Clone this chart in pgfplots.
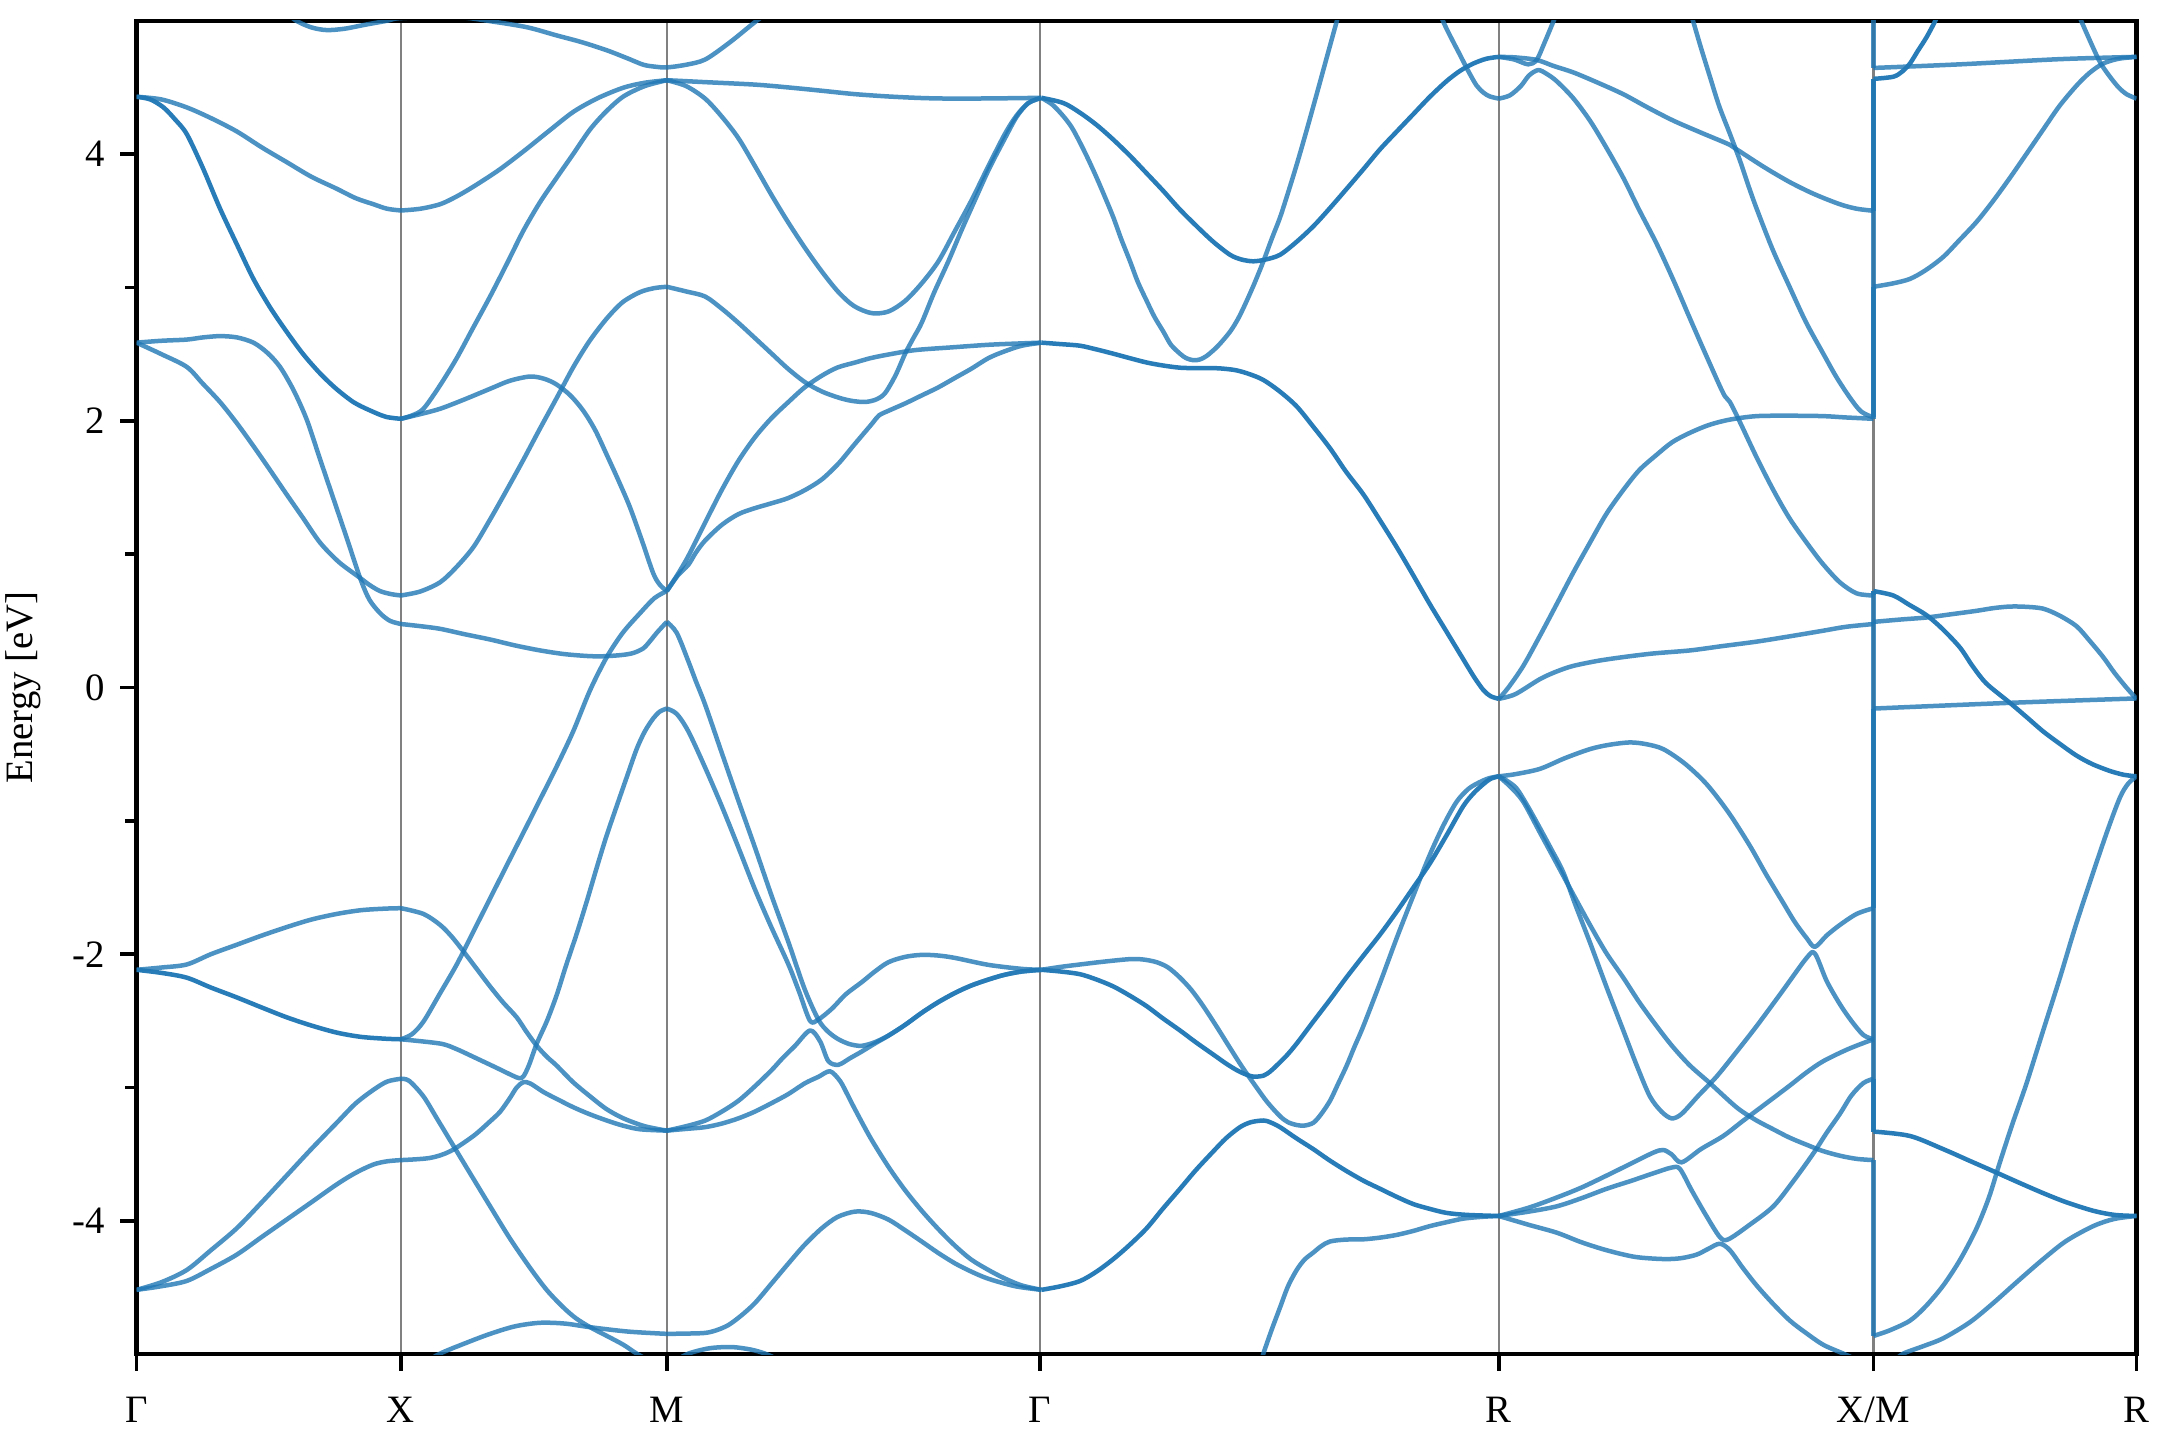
\documentclass[border=0pt]{standalone}
\usepackage{fontspec}
\setmainfont{Liberation Serif}
\usepackage{pgfplots}
\pgfplotsset{compat=1.18}
\definecolor{bandblue}{HTML}{1F77B4}
\pgfplotsset{
  band/.style={no markers, smooth, line width=1.8pt, color=bandblue, draw opacity=0.8, line join=round},
  dband/.style={band, draw opacity=0.96},
  vline/.style={no markers, line width=1.8pt, color=bandblue, draw opacity=0.8},
}
\begin{document}
\begin{tikzpicture}
\begin{axis}[
  scale only axis, width=800pt, height=533.4pt,
  xmin=99, xmax=1551, ymin=-5, ymax=5,
  xtick={99,291,484,755,1088,1360,1551},
  xticklabels={Γ,X,M,Γ,R,X/M,R},
  ytick={-4,-2,0,2,4}, yticklabels={-4,-2,0,2,4},
  minor ytick={-3,-1,1,3},
  xmajorgrids, major grid style={black!50, line width=0.9pt},
  tick align=outside, xtick pos=bottom, ytick pos=left,
  major tick length=6.5pt, minor tick length=4.5pt,
  every tick/.style={black, line width=1.4pt},
  axis line style={line width=1.7pt},
  tick label style={font=\fontsize{15.5}{17}\selectfont},
  xticklabel style={yshift=-7pt},
  yticklabel style={xshift=-2.6pt},
]
\coordinate (bl) at (rel axis cs:0,0);
\coordinate (tr) at (rel axis cs:1,1);
\coordinate (ml) at (rel axis cs:0,0.5);
% ---------- Gamma - X ----------
\addplot[band] coordinates {(205,5.08) (215,5.0) (226,4.95) (237,4.93) (250,4.94) (265,4.97) (281,5.0) (291,5.02) (330,5.03) (360,4.99) (383,4.95) (404,4.89) (422,4.84) (440,4.78) (455,4.72) (467,4.67) (476,4.655) (484,4.65) (498,4.67) (512,4.71) (530,4.84) (548,4.99) (560,5.08)};
\addplot[band] coordinates {(99,4.43) (117,4.41) (135.5,4.35) (153,4.27) (171.8,4.17) (190,4.05) (208,3.94) (226,3.83) (244.4,3.74) (258,3.67) (271,3.624) (281,3.59) (291,3.577)};
\addplot[dband] coordinates {(99,4.43) (109,4.41) (118.6,4.35) (127,4.26) (135.5,4.15) (147,3.9) (159.7,3.59) (172,3.32) (183.9,3.064) (196,2.85) (208,2.668) (220,2.5) (232.3,2.355) (244,2.24) (256.5,2.14) (268,2.08) (280,2.03) (291,2.015)};
\addplot[band] coordinates {(99,2.586) (117,2.6) (135.5,2.609) (147,2.625) (159.7,2.635) (172,2.625) (183.9,2.586) (194,2.51) (203.2,2.404) (213,2.23) (222.6,2.009) (232,1.72) (242,1.415) (252,1.11) (261.3,0.822) (268,0.66) (275.8,0.558) (283,0.5) (291,0.476)};
\addplot[band] coordinates {(99,2.586) (117,2.5) (135.5,2.404) (147,2.28) (159.7,2.14) (172,1.98) (183.9,1.81) (196,1.63) (208,1.448) (220,1.27) (232.3,1.086) (246,0.94) (261.3,0.822) (268,0.77) (275.8,0.723) (284,0.7) (291,0.69)};
\addplot[band] coordinates {(99,-2.117) (117,-2.1) (135.5,-2.077) (153,-2.0) (171.8,-1.929) (190,-1.86) (208,-1.797) (226,-1.74) (244.4,-1.698) (262,-1.67) (280,-1.658) (291,-1.655)};
\addplot[dband] coordinates {(99,-2.117) (117,-2.14) (135.5,-2.176) (153,-2.25) (171.8,-2.324) (190,-2.4) (208,-2.473) (226,-2.535) (244.4,-2.588) (262,-2.62) (280,-2.634) (291,-2.638)};
\addplot[band] coordinates {(99,-4.517) (117,-4.46) (135.5,-4.368) (153,-4.22) (171.8,-4.055) (190,-3.86) (208,-3.66) (226,-3.46) (244.4,-3.264) (258,-3.12) (271,-3.017) (281,-2.955) (291,-2.934)};
\addplot[band] coordinates {(99,-4.517) (117,-4.49) (135.5,-4.45) (153,-4.36) (171.8,-4.253) (190,-4.12) (208,-3.99) (226,-3.86) (244.4,-3.726) (258,-3.64) (271,-3.577) (281,-3.553) (291,-3.544)};
% ---------- X - M ----------
\addplot[band] coordinates {(291,3.577) (305,3.59) (319.4,3.624) (331,3.68) (343.6,3.756) (362,3.88) (379.9,4.02) (398,4.17) (416.2,4.317) (434,4.42) (452.5,4.498) (468,4.535) (484,4.554)};
\addplot[band] coordinates {(291,2.015) (299,2.04) (307.3,2.09) (319,2.26) (331.5,2.47) (343,2.69) (355.7,2.932) (368,3.18) (379.9,3.426) (392,3.64) (404,3.822) (416,4.0) (428.3,4.185) (440,4.32) (452.5,4.432) (468,4.51) (484,4.554)};
\addplot[band] coordinates {(291,2.015) (305,2.05) (319.4,2.09) (337,2.16) (355.7,2.24) (370,2.3) (384.7,2.332) (395,2.315) (404,2.272) (414,2.19) (423.4,2.075) (432,1.93) (440.4,1.745) (449,1.55) (457.3,1.35) (466,1.1) (474.2,0.855) (479,0.77) (484,0.723)};
\addplot[band] coordinates {(291,0.69) (305,0.72) (319.4,0.789) (331,0.9) (343.6,1.053) (355.7,1.26) (367.8,1.481) (380,1.71) (392,1.943) (404,2.17) (416.2,2.404) (428,2.6) (440.4,2.767) (452,2.89) (464.6,2.965) (475,2.995) (484,3.005)};
\addplot[band] coordinates {(291,0.476) (305,0.46) (319.4,0.44) (337,0.4) (355.7,0.36) (374,0.315) (392,0.278) (410,0.25) (428.3,0.235) (440,0.235) (452.5,0.245) (460,0.26) (467,0.294) (472,0.35) (476.7,0.41) (484,0.492)};
\addplot[band] coordinates {(291,-2.638) (299,-2.6) (307.3,-2.506) (319,-2.3) (331.5,-2.077) (343.6,-1.83) (355.7,-1.582) (368,-1.33) (379.9,-1.088) (392,-0.84) (404,-0.593) (416,-0.33) (428.3,-0.02) (440.4,0.228) (452,0.41) (464.6,0.558) (475,0.67) (484,0.723)};
\addplot[band] coordinates {(291,-1.655) (307.3,-1.698) (319.4,-1.78) (328,-1.87) (336.3,-1.978) (346,-2.11) (355.7,-2.242) (365,-2.36) (375,-2.473) (382,-2.58) (389.6,-2.687) (397,-2.77) (404,-2.835) (416,-2.96) (428.3,-3.066) (440,-3.16) (452.5,-3.231) (468,-3.29) (484,-3.323)};
\addplot[band] coordinates {(291,-2.638) (319.4,-2.67) (331,-2.71) (343.6,-2.77) (360,-2.85) (372,-2.91) (377,-2.93) (380,-2.915) (384,-2.83) (389.6,-2.67) (397,-2.5) (404,-2.308) (411,-2.08) (418.6,-1.846) (426,-1.6) (433.1,-1.352) (440,-1.12) (447.6,-0.89) (455,-0.67) (462.1,-0.462) (468,-0.33) (474.2,-0.231) (479,-0.18) (484,-0.158)};
\addplot[band] coordinates {(291,-2.934) (297,-2.95) (307.3,-3.066) (317,-3.23) (326.7,-3.396) (341,-3.64) (355.7,-3.89) (370,-4.13) (384.7,-4.352) (397,-4.52) (408.9,-4.649) (418,-4.73) (428.3,-4.797) (440,-4.86) (452.5,-4.929) (462.1,-4.995) (475,-5.07)};
\addplot[band] coordinates {(291,-3.544) (312,-3.528) (326.7,-3.478) (343.6,-3.363) (355,-3.26) (363,-3.181) (370,-3.08) (375,-3.0) (379.9,-2.96) (385,-2.97) (394.4,-3.033) (405,-3.09) (416.2,-3.148) (428,-3.2) (440.4,-3.247) (452,-3.285) (464.6,-3.313) (484,-3.323)};
\addplot[band] coordinates {(305,-5.08) (319.4,-4.995) (337,-4.92) (355.7,-4.847) (374,-4.79) (392,-4.764) (410,-4.77) (428.3,-4.797) (456,-4.83) (484,-4.847)};
% ---------- M - Gamma ----------
\addplot[band] coordinates {(484,4.554) (511,4.54) (548,4.521) (572,4.5) (596.5,4.475) (620,4.45) (644.9,4.432) (670,4.42) (693.3,4.416) (725,4.418) (756,4.422)};
\addplot[band] coordinates {(484,4.554) (498,4.51) (511.8,4.416) (524,4.28) (536,4.119) (548,3.91) (560.2,3.69) (572,3.49) (584.4,3.295) (596.5,3.12) (608.6,2.965) (620,2.86) (632.8,2.807) (645,2.82) (657,2.899) (669,3.03) (681.2,3.196) (693,3.42) (705.4,3.657) (717,3.9) (729.5,4.152) (738,4.29) (746.5,4.383) (756,4.422)};
\addplot[band] coordinates {(484,3.005) (498,2.97) (511.8,2.932) (524,2.84) (536,2.734) (548,2.62) (560.2,2.503) (572,2.39) (584.4,2.289) (596.5,2.22) (608.6,2.174) (618,2.15) (627.9,2.141) (636,2.16) (642.4,2.207) (650,2.34) (657,2.503) (663,2.62) (669,2.734) (678,2.96) (688.4,3.196) (698,3.43) (707.8,3.657) (718,3.89) (729.5,4.119) (738,4.28) (746.5,4.383) (756,4.422)};
\addplot[band] coordinates {(484,0.723) (492,0.85) (499.7,0.987) (512,1.24) (523.9,1.481) (536,1.7) (548,1.877) (560,2.02) (572.3,2.141) (584,2.25) (596.5,2.338) (608,2.4) (620.7,2.437) (632,2.47) (644.9,2.497) (664.2,2.53) (690,2.55) (717.5,2.57) (740,2.58) (756,2.586)};
\addplot[band] coordinates {(484,0.723) (492,0.84) (499.7,0.921) (505,1.01) (511.8,1.102) (524,1.22) (536,1.3) (548,1.345) (560.2,1.382) (572,1.42) (584.4,1.481) (596.5,1.56) (608.6,1.679) (620,1.82) (632.8,1.976) (638,2.04) (644.9,2.075) (657,2.13) (669,2.19) (681,2.25) (693.3,2.322) (705,2.39) (717.5,2.47) (729,2.52) (741.7,2.563) (756,2.586)};
\addplot[band] coordinates {(484,0.492) (491.2,0.41) (499.7,0.195) (505,0.05) (511.8,-0.128) (523.9,-0.49) (536,-0.85) (548,-1.2) (560,-1.56) (572.3,-1.91) (584,-2.26) (594,-2.49) (601,-2.58) (608.6,-2.638) (617,-2.675) (625.5,-2.687) (635,-2.66) (644.9,-2.61) (657,-2.53) (669,-2.44) (681,-2.36) (693.3,-2.29) (705,-2.235) (717.5,-2.19) (729,-2.155) (741.7,-2.13) (756,-2.117)};
\addplot[band] coordinates {(484,-0.158) (491.2,-0.198) (499.7,-0.33) (511.8,-0.6) (523.9,-0.89) (536,-1.2) (548.1,-1.517) (560,-1.8) (572.3,-2.077) (580,-2.28) (588,-2.5) (594,-2.49) (603.7,-2.41) (614,-2.3) (625.5,-2.21) (635,-2.13) (644.9,-2.06) (657,-2.02) (669.1,-2.005) (681,-2.01) (693.3,-2.028) (717.5,-2.08) (741.7,-2.11) (756,-2.117)};
\addplot[band] coordinates {(484,-3.323) (498,-3.29) (511.8,-3.248) (524,-3.18) (536,-3.099) (548,-2.99) (560.2,-2.868) (568,-2.78) (577.1,-2.687) (588,-2.572) (595.3,-2.654) (601.3,-2.802) (608.6,-2.829) (617,-2.78) (625.5,-2.73) (635,-2.67) (644.9,-2.611) (657,-2.53) (669,-2.44) (681,-2.36) (693.3,-2.29) (705,-2.235) (717.5,-2.19) (729,-2.155) (741.7,-2.13) (756,-2.117)};
\addplot[band] coordinates {(484,-3.323) (498,-3.31) (511.8,-3.297) (524,-3.27) (536,-3.231) (548,-3.18) (560.2,-3.116) (572,-3.05) (584.4,-2.967) (594,-2.92) (602.5,-2.878) (609.8,-2.951) (615,-3.05) (620.7,-3.165) (632,-3.38) (644.9,-3.594) (657,-3.77) (669,-3.923) (681,-4.06) (693.3,-4.187) (705,-4.29) (717.5,-4.368) (729,-4.43) (741.7,-4.484) (756,-4.517)};
\addplot[band] coordinates {(484,-4.847) (498,-4.845) (511.8,-4.84) (520,-4.82) (528.7,-4.781) (538,-4.71) (548,-4.616) (560,-4.47) (572.3,-4.319) (584,-4.18) (596.5,-4.055) (608,-3.97) (620.7,-3.93) (632,-3.94) (644.9,-3.99) (657,-4.07) (669,-4.154) (681,-4.24) (693.3,-4.319) (705,-4.38) (717.5,-4.434) (737,-4.49) (756,-4.517)};
\addplot[band] coordinates {(490,-5.05) (499.7,-4.995) (515,-4.955) (531.2,-4.946) (545,-4.965) (555.3,-4.995) (565,-5.04)};
% ---------- Gamma - R ----------
\addplot[dband] coordinates {(756,4.422) (771.9,4.383) (784,4.31) (796.1,4.218) (808,4.11) (820.3,3.987) (832,3.86) (844.5,3.723) (856,3.59) (868.7,3.459) (881,3.34) (892.9,3.245) (901,3.21) (909.8,3.196) (919,3.21) (929.2,3.245) (941,3.34) (953.4,3.459) (965,3.59) (977.6,3.74) (990,3.89) (1001.8,4.036) (1014,4.17) (1026,4.3) (1038,4.43) (1050.1,4.547) (1060,4.625) (1069.5,4.679) (1079,4.715) (1088,4.729)};
\addplot[band] coordinates {(756,4.422) (764,4.37) (771.9,4.284) (778,4.2) (784,4.086) (790,3.96) (796.1,3.822) (802,3.68) (808.2,3.525) (814,3.36) (820.3,3.196) (826,3.04) (832.4,2.899) (838,2.78) (844.5,2.668) (850,2.57) (856.6,2.503) (861,2.47) (866.3,2.454) (871,2.46) (876,2.487) (884,2.56) (892.9,2.668) (899,2.77) (905,2.899) (911,3.04) (917.1,3.196) (923,3.36) (929.2,3.525) (935,3.71) (941.3,3.921) (948,4.16) (955.8,4.449) (963,4.72) (970.3,4.993) (976,5.2)};
\addplot[dband] coordinates {(756,2.586) (770,2.575) (784,2.563) (796,2.535) (808.2,2.503) (820,2.47) (832.4,2.437) (844,2.415) (856.6,2.398) (868,2.395) (880.8,2.395) (889,2.39) (897.7,2.378) (907,2.35) (917.1,2.306) (929,2.22) (941.3,2.108) (953,1.96) (965.5,1.794) (977,1.62) (989.7,1.448) (1002,1.25) (1013.9,1.053) (1026,0.84) (1038,0.624) (1050,0.42) (1062.2,0.212) (1070,0.08) (1076.8,-0.019) (1082,-0.065) (1088,-0.085)};
\addplot[band] coordinates {(1044,5.1) (1047.7,4.993) (1054,4.86) (1059.8,4.745) (1066,4.62) (1071.9,4.514) (1077,4.46) (1081.6,4.432) (1088,4.416)};
\addplot[dband] coordinates {(756,-2.117) (770,-2.13) (784,-2.15) (796,-2.19) (808.2,-2.242) (820,-2.31) (832.4,-2.39) (844,-2.48) (856.6,-2.572) (868,-2.66) (880.8,-2.753) (890,-2.82) (897.7,-2.869) (904,-2.9) (909.8,-2.918) (917.1,-2.911) (922,-2.88) (926.7,-2.835) (934,-2.76) (941.3,-2.67) (953,-2.51) (965.5,-2.341) (977,-2.18) (989.7,-2.011) (1002,-1.85) (1013.9,-1.681) (1026,-1.5) (1038,-1.319) (1050,-1.11) (1062.2,-0.89) (1070,-0.79) (1076.8,-0.725) (1082,-0.685) (1088,-0.666)};
\addplot[band] coordinates {(756,-2.117) (770,-2.095) (784,-2.077) (802,-2.055) (820.3,-2.037) (830,-2.04) (839.6,-2.06) (848,-2.1) (856.6,-2.176) (865,-2.27) (873.5,-2.39) (883,-2.54) (892.9,-2.703) (902,-2.85) (912.2,-3.0) (920,-3.11) (929.2,-3.215) (935,-3.26) (941.3,-3.281) (947,-3.285) (953.4,-3.264) (959,-3.2) (965.5,-3.099) (971,-2.98) (977.6,-2.835) (983,-2.7) (989.7,-2.539) (1002,-2.21) (1013.9,-1.879) (1026,-1.56) (1038,-1.253) (1048,-1.03) (1057.4,-0.857) (1066,-0.76) (1074.3,-0.709) (1081,-0.68) (1088,-0.666)};
\addplot[dband] coordinates {(756,-4.517) (770,-4.49) (784,-4.451) (796,-4.38) (808.2,-4.286) (820,-4.18) (832.4,-4.055) (844,-3.91) (856.6,-3.759) (868,-3.62) (880.8,-3.478) (890,-3.38) (900.1,-3.297) (908,-3.26) (917.1,-3.247) (922,-3.26) (929.2,-3.297) (941,-3.38) (953.4,-3.462) (965,-3.545) (977.6,-3.627) (990,-3.7) (1001.8,-3.759) (1014,-3.82) (1026,-3.874) (1038,-3.91) (1050.1,-3.94) (1065,-3.955) (1088,-3.963)};
\addplot[band] coordinates {(914,-5.1) (917.1,-4.995) (923,-4.82) (929.2,-4.649) (935,-4.49) (941.3,-4.368) (947,-4.29) (953.4,-4.237) (959,-4.19) (965.5,-4.154) (977,-4.14) (989.7,-4.138) (1002,-4.125) (1013.9,-4.105) (1026,-4.075) (1038,-4.039) (1050,-4.01) (1062.2,-3.983) (1075,-3.97) (1088,-3.963)};
% ---------- R - X ----------
\addplot[band] coordinates {(1088,4.729) (1099,4.71) (1109.4,4.673) (1115.5,4.706) (1121,4.83) (1127.6,4.993) (1132,5.1)};
\addplot[band] coordinates {(1088,4.729) (1100,4.725) (1115.5,4.706) (1128,4.66) (1142,4.613) (1160,4.535) (1178.4,4.449) (1196,4.35) (1214.7,4.251) (1235,4.16) (1255.8,4.069) (1263,4.02) (1281,3.9) (1299.4,3.789) (1317,3.7) (1335.6,3.624) (1348,3.59) (1360,3.575)};
\addplot[band] coordinates {(1088,4.416) (1096,4.44) (1104,4.51) (1110,4.59) (1116.7,4.63) (1123,4.6) (1130,4.547) (1142,4.42) (1154.2,4.251) (1166,4.05) (1178.4,3.822) (1190,3.58) (1202.6,3.328) (1215,3.05) (1226.8,2.767) (1239,2.48) (1251,2.206) (1255.8,2.141) (1263,1.992) (1275,1.73) (1287.3,1.481) (1299,1.27) (1311.5,1.086) (1323,0.93) (1335.6,0.789) (1347.8,0.706) (1360,0.69)};
\addplot[band] coordinates {(1226,5.1) (1229.2,4.993) (1235,4.79) (1241.3,4.58) (1248,4.36) (1255.8,4.152) (1263,3.954) (1269,3.77) (1275.2,3.591) (1287,3.28) (1299.4,2.998) (1311,2.74) (1323.6,2.503) (1333,2.33) (1342.9,2.174) (1351,2.07) (1360,2.025)};
\addplot[band] coordinates {(1088,-0.085) (1095,0.0) (1105.8,0.162) (1118,0.39) (1130,0.624) (1142,0.86) (1154.2,1.086) (1166,1.3) (1178.4,1.481) (1190,1.63) (1202.6,1.745) (1214,1.84) (1226.8,1.91) (1241,1.97) (1255.8,2.009) (1275.2,2.035) (1300,2.038) (1323.6,2.035) (1340,2.025) (1360,2.015)};
\addplot[band] coordinates {(1088,-0.085) (1100,-0.05) (1117.9,0.063) (1130,0.12) (1142.1,0.162) (1160,0.2) (1178.4,0.228) (1200,0.255) (1226.8,0.278) (1250,0.31) (1275.2,0.344) (1300,0.385) (1323.6,0.426) (1340,0.455) (1360,0.476)};
\addplot[band] coordinates {(1088,-0.666) (1100,-0.65) (1117.9,-0.61) (1136,-0.53) (1154.2,-0.462) (1168,-0.43) (1183.2,-0.412) (1195,-0.425) (1207.4,-0.462) (1223,-0.57) (1238.9,-0.725) (1255,-0.94) (1270.3,-1.187) (1282,-1.4) (1294.5,-1.615) (1303,-1.76) (1311.5,-1.879) (1317.5,-1.945) (1326,-1.86) (1335.6,-1.781) (1347.8,-1.698) (1360,-1.655)};
\addplot[band] coordinates {(1088,-0.666) (1094,-0.7) (1101,-0.758) (1109,-0.89) (1117.9,-1.055) (1126,-1.21) (1134.8,-1.385) (1144,-1.64) (1154.2,-1.912) (1166,-2.24) (1178.4,-2.572) (1188,-2.83) (1197.7,-3.066) (1206.2,-3.181) (1213.5,-3.231) (1220.7,-3.198) (1233,-3.06) (1246.1,-2.918) (1260,-2.74) (1275.2,-2.539) (1293,-2.29) (1311.5,-2.028) (1317.5,-1.995) (1326,-2.2) (1335.6,-2.374) (1344,-2.5) (1352.6,-2.605) (1360,-2.638)};
\addplot[band] coordinates {(1088,-0.666) (1097,-0.75) (1105.8,-0.857) (1118,-1.09) (1130,-1.319) (1142,-1.55) (1154.2,-1.78) (1166,-1.99) (1178.4,-2.176) (1190,-2.36) (1202.6,-2.539) (1214,-2.69) (1226.8,-2.835) (1241.3,-2.967) (1260.6,-3.148) (1274,-3.24) (1287.3,-3.313) (1299,-3.375) (1311.5,-3.429) (1323,-3.475) (1335.6,-3.511) (1348,-3.535) (1360,-3.544)};
\addplot[band] coordinates {(1088,-3.963) (1110,-3.9) (1130,-3.825) (1148,-3.75) (1166.3,-3.66) (1184,-3.57) (1200.2,-3.488) (1207.4,-3.468) (1213.5,-3.501) (1220.7,-3.561) (1235,-3.46) (1251,-3.363) (1265.5,-3.248) (1282,-3.12) (1299.4,-2.984) (1311,-2.89) (1323.6,-2.802) (1342,-2.71) (1360,-2.638)};
\addplot[band] coordinates {(1088,-3.963) (1110,-3.93) (1130,-3.891) (1148,-3.83) (1166.3,-3.759) (1184,-3.7) (1200.2,-3.643) (1213.5,-3.6) (1219.5,-3.61) (1228,-3.77) (1238,-3.95) (1248.5,-4.121) (1254.6,-4.138) (1270,-4.03) (1287.3,-3.891) (1302,-3.7) (1316.3,-3.495) (1326,-3.34) (1335.6,-3.198) (1344,-3.06) (1352.6,-2.967) (1360,-2.934)};
\addplot[band] coordinates {(1088,-3.963) (1110,-4.03) (1130,-4.088) (1148,-4.16) (1166.3,-4.22) (1187,-4.27) (1207.4,-4.286) (1220,-4.28) (1231.6,-4.253) (1240,-4.21) (1248.5,-4.171) (1255.8,-4.22) (1265,-4.35) (1275.2,-4.484) (1287,-4.62) (1299.4,-4.748) (1311,-4.84) (1323.6,-4.929) (1338.1,-4.995) (1350,-5.05)};
% ---------- X/M jumps ----------
\addplot[vline] coordinates {(1360,-3.544) (1360,-4.863)};
\addplot[vline] coordinates {(1360,-2.934) (1360,-3.33)};
\addplot[vline] coordinates {(1360,-2.638) (1360,-3.33)};
\addplot[vline] coordinates {(1360,-2.638) (1360,-0.158)};
\addplot[vline] coordinates {(1360,-1.655) (1360,0.492)};
\addplot[vline] coordinates {(1360,0.476) (1360,0.723)};
\addplot[vline] coordinates {(1360,0.69) (1360,0.723)};
\addplot[vline] coordinates {(1360,2.015) (1360,3.005)};
\addplot[vline] coordinates {(1360,2.025) (1360,4.564)};
\addplot[vline] coordinates {(1360,3.575) (1360,4.564)};
\addplot[vline] coordinates {(1360,5.1) (1360,4.646)};
% ---------- M - R ----------
\addplot[band] coordinates {(1360,4.646) (1422.8,4.673) (1495.4,4.712) (1551,4.729)};
\addplot[dband] coordinates {(1360,4.564) (1374.4,4.58) (1381,4.62) (1386.5,4.679) (1392,4.77) (1398.6,4.877) (1404.6,4.993) (1408,5.07)};
\addplot[band] coordinates {(1360,3.005) (1374,3.03) (1386.5,3.064) (1398,3.13) (1410.7,3.229) (1422,3.35) (1434.9,3.492) (1447,3.65) (1459.1,3.822) (1471,4.0) (1483.3,4.185) (1495,4.36) (1507.5,4.514) (1517,4.61) (1526.8,4.679) (1538,4.715) (1551,4.729)};
\addplot[band] coordinates {(1507,5.1) (1511.1,4.993) (1519.6,4.795) (1525,4.68) (1531.7,4.58) (1538,4.5) (1543.8,4.449) (1551,4.416)};
\addplot[dband] coordinates {(1360,0.723) (1374.4,0.69) (1386,0.62) (1398.6,0.542) (1410,0.44) (1422.8,0.3) (1432,0.16) (1442,0.03) (1459.1,-0.115) (1471,-0.22) (1483.3,-0.33) (1495,-0.42) (1507.5,-0.511) (1519,-0.575) (1531.7,-0.626) (1542,-0.655) (1551,-0.666)};
\addplot[band] coordinates {(1360,0.492) (1380,0.51) (1398.6,0.525) (1417,0.55) (1434.9,0.575) (1447,0.595) (1459.1,0.607) (1471,0.605) (1483.3,0.591) (1495,0.54) (1507.5,0.459) (1517,0.35) (1526.8,0.228) (1535,0.11) (1543.8,-0.002) (1551,-0.085)};
\addplot[band] coordinates {(1360,-0.158) (1459.1,-0.115) (1551,-0.082)};
\addplot[band] coordinates {(1360,-4.863) (1372,-4.82) (1386.5,-4.748) (1398,-4.64) (1410.7,-4.484) (1423,-4.29) (1434.9,-4.055) (1444,-3.82) (1451.8,-3.561) (1461,-3.27) (1471.2,-2.967) (1483,-2.58) (1495.4,-2.176) (1507,-1.78) (1519.6,-1.385) (1530,-1.07) (1539,-0.824) (1545,-0.72) (1551,-0.666)};
\addplot[dband] coordinates {(1360,-3.33) (1386.5,-3.363) (1410.7,-3.462) (1430,-3.55) (1447,-3.627) (1465,-3.71) (1483.3,-3.792) (1500,-3.86) (1519.6,-3.924) (1535,-3.955) (1551,-3.963)};
\addplot[band] coordinates {(1375,-5.05) (1381.7,-4.995) (1396,-4.94) (1410.7,-4.88) (1430,-4.76) (1447,-4.616) (1465,-4.45) (1483.3,-4.286) (1500,-4.15) (1519.6,-4.039) (1535,-3.985) (1551,-3.963)};
\end{axis}
\node[rotate=90, font=\fontsize{15.5}{17}\selectfont] at ([xshift=-45.2pt]ml) {Energy [eV]};
\pgfresetboundingbox
\path[use as bounding box] ([xshift=-54.6pt,yshift=-34.3pt]bl) rectangle ([xshift=9.4pt,yshift=8.3pt]tr);
\end{tikzpicture}
\end{document}
